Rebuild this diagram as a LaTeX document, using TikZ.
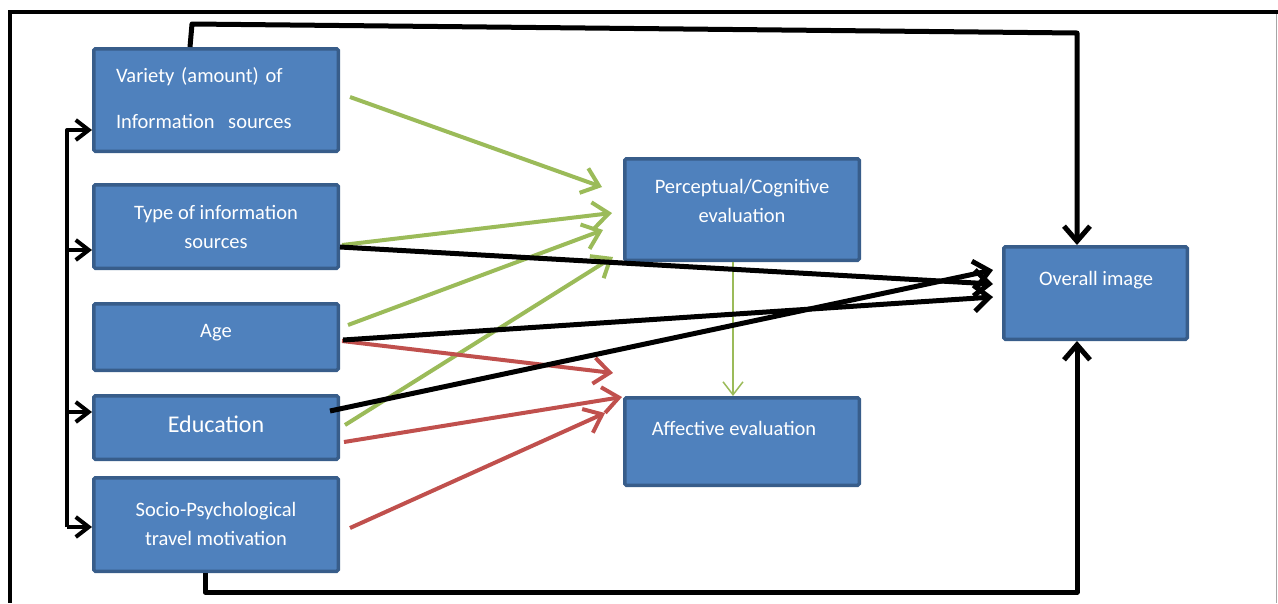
\documentclass[tikz,border=0pt]{standalone}
\usepackage{fontspec}
\setmainfont{Carlito}
\usetikzlibrary{arrows.meta,calc}
\definecolor{boxfill}{HTML}{4F81BD}
\definecolor{boxedge}{HTML}{385D8A}
\definecolor{grn}{HTML}{9BBB59}
\definecolor{rd}{HTML}{C0504D}
\begin{document}
\begin{tikzpicture}[x=1pt,y=-1pt,
  box/.style={draw=boxedge, fill=boxfill, line width=3.5pt, rounded corners=1.5pt, inner sep=0pt},
  lbl/.style={text=white, font=\fontsize{20.5}{29}\selectfont, align=center, inner sep=0pt},
  blk/.style={line width=5pt, black, line join=round, -{Straight Barb[length=15pt,width=26pt]}},
  blks/.style={line width=4pt, black, line join=round, -{Straight Barb[length=13pt,width=20pt]}},
  gr/.style={line width=4pt, grn, -{Straight Barb[length=16pt,width=26pt]}},
  rdd/.style={line width=4pt, rd, -{Straight Barb[length=16pt,width=26pt]}},
  thin/.style={line width=1.5pt, grn, -{Straight Barb[length=13pt,width=20pt]}}
]
\useasboundingbox (0,0) rectangle (1278,603);

% outer frame
\draw[line width=4pt] (8,12) -- (1278,12);
\draw[line width=4pt] (10,12) -- (10,603);
\draw[line width=1.5pt, black!35] (1276.5,14) -- (1276.5,603);

% boxes
\node[box, minimum width=244.5pt, minimum height=102.5pt] (var) at (216,100) {};
\node[box, minimum width=244.5pt, minimum height=83.5pt] (type) at (216,226.5) {};
\node[box, minimum width=244.5pt, minimum height=66.5pt] (age) at (216,337) {};
\node[box, minimum width=244.5pt, minimum height=63.5pt] (edu) at (216,427.5) {};
\node[box, minimum width=244.5pt, minimum height=93.5pt] (soc) at (216,524.5) {};
\node[box, minimum width=234.5pt, minimum height=101.5pt] (perc) at (742,209.5) {};
\node[box, minimum width=234.5pt, minimum height=87.5pt] (aff) at (742,441.5) {};
\node[box, minimum width=183.5pt, minimum height=92.5pt] (ovr) at (1095.5,293) {};

% labels
\node[lbl, font=\fontsize{20.5}{46}\selectfont, align=left, text width=200pt] (var-t) at (216,98) {Variety (amount) of\\Information\ \ sources};
\node[lbl] (type-t) at (216,226.5) {Type of information\\sources};
\node[lbl] (age-t) at (216,333) {Age};
\node[lbl, font=\fontsize{24}{29}\selectfont] (edu-t) at (216,424) {Education};
\node[lbl] (soc-t) at (216,523.5) {Socio-Psychological\\travel motivation};
\node[lbl] (perc-t) at (742,200.5) {Perceptual/Cognitive\\evaluation};
\node[lbl] (aff-t) at (734,428) {Affective evaluation};
\node[lbl] (ovr-t) at (1096,280) {Overall image};

% feedback loops around the figure
\coordinate (t1) at (192,24);
\coordinate (t2) at (1077,33);
\draw[blk] ($(var.north)+(-26,0)$) -- (t1) -- (t2) -- (t2 |- ovr.north);
\coordinate (b1) at (205,592);
\coordinate (b2) at (1077,592);
\draw[blk] ($(soc.south)+(-11,0)$) -- (b1) -- (b2) -- (b2 |- ovr.south);

% left bracket
\coordinate (lt) at (67,130);
\coordinate (lb) at (67,527);
\coordinate (l2) at (67,250);
\coordinate (l4) at (67,412);
\draw[blks] (lb) -- (lt) -- (lt -| var.west);
\draw[blks] (l2) -- (l2 -| type.west);
\draw[blks] (l4) -- (l4 -| edu.west);
\draw[blks] (lb) -- (lb -| soc.west);

% paths to perceptual/cognitive evaluation
\draw[gr] ($(var.east)+(10,-3)$) -- ($(perc.west)+(-21,-22.5)$);
\draw[gr] ($(type.east)+(2,18.5)$) -- ($(perc.west)+(-11,3.5)$);
\draw[gr] ($(age.east)+(8,-12)$) -- ($(perc.west)+(-20,20.5)$);
\draw[gr] ($(edu.east)+(5,-2.5)$) -- ($(perc.west)+(-10,47.5)$);

% paths to affective evaluation
\draw[rdd] ($(age.east)+(2,4)$) -- ($(aff.west)+(-10,-68.5)$);
\draw[rdd] ($(edu.east)+(4,14.5)$) -- ($(aff.west)+(-1,-44.5)$);
\draw[rdd] ($(soc.east)+(10,3.5)$) -- ($(aff.west)+(-18,-28.5)$);
\draw[thin] ($(perc.south)+(-9,0)$) -- ($(aff.north)+(-9,0)$);

% direct paths to overall image
\draw[blk] ($(type.east)+(0,20.5)$) -- ($(ovr.west)+(-9,-9)$);
\draw[blk] ($(age.east)+(3,3)$) -- ($(ovr.west)+(-9,4)$);
\draw[blk] ($(edu.east)+(-10,-16.5)$) -- ($(ovr.west)+(-9,-23)$);
\end{tikzpicture}
\end{document}
